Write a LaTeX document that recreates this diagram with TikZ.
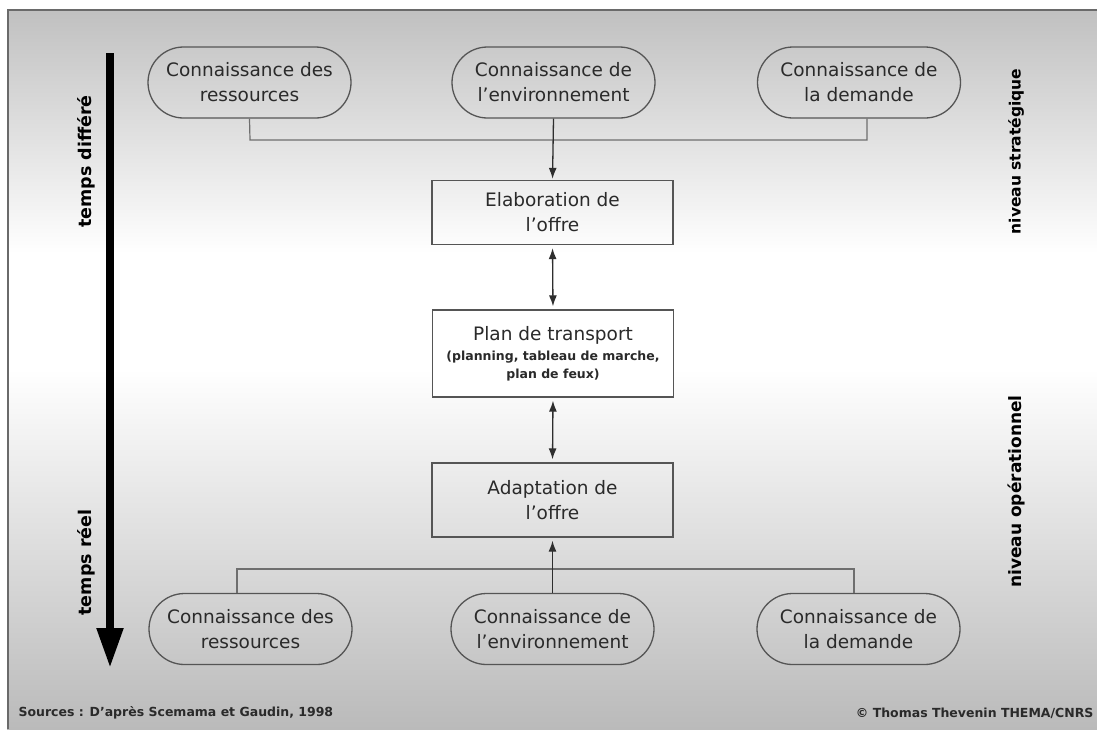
\documentclass[tikz,border=0pt]{standalone}
\usepackage{fontspec}
\setmainfont{DejaVu Sans}
\usetikzlibrary{shapes.misc,arrows.meta,calc}

\definecolor{edgegray}{HTML}{555555}
\definecolor{linegray}{HTML}{6E6E6E}
\definecolor{arrowgray}{HTML}{2E2E2E}
\definecolor{textgray}{HTML}{2A2A2A}
\definecolor{framegray}{HTML}{6A6A6A}
\definecolor{bgtop}{HTML}{C0C0C0}
\definecolor{bgbot}{HTML}{BABABA}

\newcommand{\notefont}{\bfseries\fontsize{12.5}{16}\selectfont}

% vertical background shading: grey at both ends, white band above the middle
\pgfdeclareverticalshading{panelshade}{100bp}{%
  color(0bp)=(bgbot); color(25bp)=(bgbot);
  color(50bp)=(white); color(58bp)=(white);
  color(75bp)=(bgtop); color(100bp)=(bgtop)}

\begin{document}
\begin{tikzpicture}[x=1pt,y=-1pt,
  every node/.style={text=textgray},
  knowbox/.style={rounded rectangle, draw=edgegray, line width=1.3pt,
    minimum width=207pt, minimum height=71pt, align=center, inner sep=2pt,
    font=\fontsize{18.5}{25}\selectfont},
  offerbox/.style={rectangle, draw=edgegray, line width=1.3pt,
    minimum width=241pt, align=center, inner sep=2pt,
    font=\fontsize{18.5}{25}\selectfont},
  conn/.style={draw=linegray, line width=1.2pt},
  arr/.style={draw=arrowgray, line width=1.3pt},
  tip/.style={-{Latex[length=11pt,width=8pt]}},
  twotip/.style={{Latex[length=11pt,width=8pt]}-{Latex[length=11pt,width=8pt]}},
  sidelabel/.style={rotate=90, font=\bfseries\fontsize{17.5}{18}\selectfont, text=black},
  credit/.style={font=\bfseries\fontsize{12.5}{14}\selectfont, text=textgray}
]
\useasboundingbox (0,0) rectangle (1097,729);

% panel with shaded background and dark top/left border
\shade[shading=panelshade] (7,9) rectangle (1097,729);
\draw[framegray, line width=2pt] (8,729) -- (8,10) -- (1097,10);

% time axis
\coordinate (tstart) at (110,53);
\coordinate (tend) at (110,668);
\draw[black, line width=8pt, -{Triangle[length=40pt,width=25pt]}] (tstart) -- (tend);
\node[sidelabel] (tdiff) at (86,161.5) {temps différé};
\node[sidelabel] (treel) at (86,562.5) {temps réel};

% level labels
\node[sidelabel, font=\bfseries\fontsize{15.5}{18}\selectfont] (nstrat) at (1016,151.5) {niveau stratégique};
\node[sidelabel, font=\bfseries\fontsize{17}{18}\selectfont] (nopera) at (1016,491.5) {niveau opérationnel};

% strategic knowledge inputs
\node[knowbox] (TL) at (249.5,82.5) {Connaissance des\\ressources};
\node[knowbox] (TM) at (553.5,82.5) {Connaissance de\\l'environnement};
\node[knowbox] (TR) at (859,82.5) {Connaissance de\\la demande};

% offer chain
\node[offerbox, minimum height=64pt] (elab) at (552.5,212.5) {Elaboration de\\l'offre};
\node[offerbox, minimum height=87pt, fill=white] (plan) at (553,353.5)
  {Plan de transport\\[-5pt]{\notefont (planning, tableau de marche,}\\[-7pt]{\notefont plan de feux)}};
\node[offerbox, minimum height=74pt] (adapt) at (552.5,500) {Adaptation de\\l'offre};

% operational knowledge inputs
\node[knowbox] (BL) at (250.5,629) {Connaissance des\\ressources};
\node[knowbox] (BM) at (552.5,629) {Connaissance de\\l'environnement};
\node[knowbox] (BR) at (858.5,629) {Connaissance de\\la demande};

% upper collector
\coordinate (tl) at (250,140);
\coordinate (tr) at (867,140);
\draw[conn] (TL.south) -- (tl) -- (tr) -- (tr |- TR.south);
\draw[arr, tip, shorten >=1pt] (TM.south) -- (elab.north);

% links along the chain
\draw[arr, twotip, shorten <=3pt, shorten >=3pt] (elab.south) -- (plan.north);
\draw[arr, twotip, shorten <=3pt, shorten >=3pt] (plan.south) -- (adapt.north);

% lower collector
\coordinate (bl) at (237,569);
\coordinate (br) at (854,569);
\draw[conn] (bl |- BL.north) -- (bl) -- (br) -- (br |- BR.north);
\draw[arr, tip, shorten >=3pt] (BM.north) -- (adapt.south);

% credits
\node[credit, anchor=west] (src) at (15,713) {Sources : D'après Scemama et Gaudin, 1998};
\node[credit, anchor=east] (auth) at (1097,713) {© Thomas Thevenin THEMA/CNRS};
\end{tikzpicture}
\end{document}
